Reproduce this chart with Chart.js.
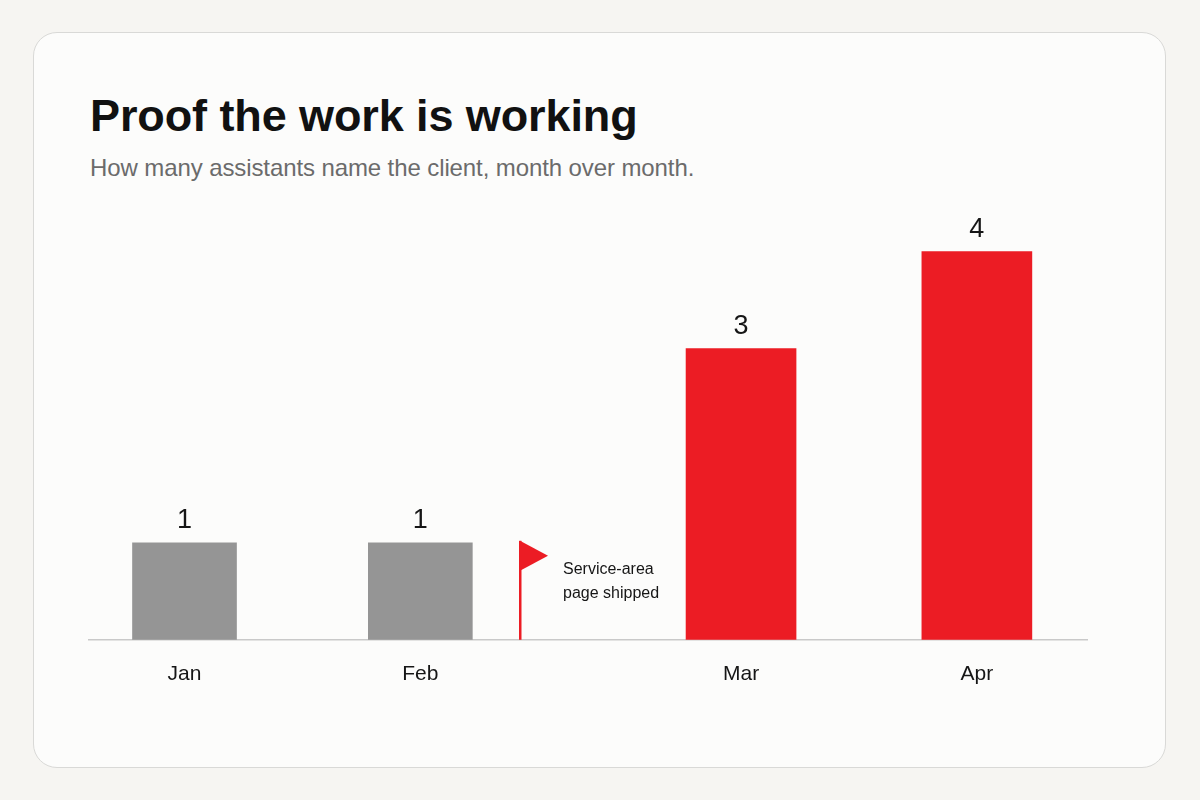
<!DOCTYPE html>
<html>
<head>
<meta charset="utf-8">
<script src="https://cdn.jsdelivr.net/npm/chart.js@4.4.1/dist/chart.umd.min.js"></script>
<style>
  html, body { margin: 0; padding: 0; }
  body {
    width: 1200px;
    height: 800px;
    background: #f6f5f2;
    position: relative;
    font-family: "Liberation Sans", Arial, sans-serif;
    overflow: hidden;
  }
  .card {
    position: absolute;
    left: 33px;
    top: 32px;
    width: 1131px;
    height: 734px;
    background: #fcfcfb;
    border: 1px solid #d9d9d7;
    border-radius: 24px;
  }
  .title {
    position: absolute;
    left: 90px;
    top: 93px;
    margin: 0;
    font-size: 45px;
    line-height: 45px;
    font-weight: 700;
    color: #111;
    letter-spacing: -0.1px;
  }
  .subtitle {
    position: absolute;
    left: 90px;
    top: 156px;
    margin: 0;
    font-size: 24px;
    line-height: 24px;
    color: #6b6b6b;
    letter-spacing: -0.1px;
  }
  .chart-box {
    position: absolute;
    left: 33px;
    top: 180px;
    width: 1133px;
    height: 588px;
  }
</style>
</head>
<body>
<div class="card"></div>
<h1 class="title">Proof the work is working</h1>
<p class="subtitle">How many assistants name the client, month over month.</p>
<div class="chart-box"><canvas id="myChart"></canvas></div>

<script>
// 데이터
const MONTHS = ["Jan", "Feb", "Mar", "Apr"];
const ASSISTANTS = [1, 1, 3, 4];
const LAUNCH_AFTER = "Feb";
const LAUNCH_NOTE = ["Service-area", "page shipped"];

// 색상
const GRAY = "#959595";
const RED = "#ec1c24";
const INK = "#161616";

// 출시 이후 달 사이에 벌어지는 간격 (레이아웃)
const LAUNCH_GAP = 0.36;
const launchIndex = MONTHS.indexOf(LAUNCH_AFTER);
const xPos = MONTHS.map((m, i) => i + (i > launchIndex ? LAUNCH_GAP : 0));

const toPoints = (from, to) =>
  MONTHS.slice(from, to).map((m, k) => ({ x: xPos[from + k], y: ASSISTANTS[from + k] }));

// 막대 위에 값 표시
const valueLabels = {
  id: "valueLabels",
  afterDatasetsDraw(chart) {
    const ctx = chart.ctx;
    ctx.save();
    ctx.fillStyle = INK;
    ctx.font = "27px 'Liberation Sans', Arial, sans-serif";
    ctx.textAlign = "center";
    ctx.textBaseline = "alphabetic";
    chart.data.datasets.forEach((ds, di) => {
      chart.getDatasetMeta(di).data.forEach((bar, i) => {
        ctx.fillText(String(ds.data[i].y), bar.x, bar.y - 15);
      });
    });
    ctx.restore();
  },
};

// 출시 시점 깃발
const launchFlag = {
  id: "launchFlag",
  afterDatasetsDraw(chart) {
    const { ctx, chartArea, scales } = chart;
    const a = scales.x.getPixelForValue(xPos[launchIndex]);
    const b = scales.x.getPixelForValue(xPos[launchIndex + 1]);
    const x = Math.round(a + (b - a) * 0.31);
    const bottom = chartArea.bottom;
    const top = bottom - 99;
    ctx.save();
    ctx.fillStyle = RED;
    ctx.fillRect(x - 1, top, 2.5, bottom - top);
    ctx.beginPath();
    ctx.moveTo(x, top);
    ctx.lineTo(x + 28, top + 15);
    ctx.lineTo(x, top + 30);
    ctx.closePath();
    ctx.fill();
    ctx.fillStyle = INK;
    ctx.font = "16px 'Liberation Sans', Arial, sans-serif";
    ctx.textAlign = "left";
    ctx.textBaseline = "alphabetic";
    LAUNCH_NOTE.forEach((line, i) => ctx.fillText(line, x + 43, top + 33 + i * 24));
    ctx.restore();
  },
};

const ctx = document.getElementById("myChart").getContext("2d");

new Chart(ctx, {
  type: "bar",
  data: {
    datasets: [
      {
        label: "Before",
        data: toPoints(0, launchIndex + 1),
        backgroundColor: GRAY,
        barThickness: 104,
        grouped: false,
      },
      {
        label: "After",
        data: toPoints(launchIndex + 1, MONTHS.length),
        backgroundColor: RED,
        barThickness: 110,
        grouped: false,
      },
    ],
  },
  options: {
    responsive: true,
    maintainAspectRatio: false,
    animation: false,
    layout: {
      padding: { left: 56, right: 79, top: 23, bottom: 59 },
    },
    plugins: {
      legend: { display: false },
      tooltip: { enabled: false },
    },
    scales: {
      x: {
        type: "linear",
        min: -0.405,
        max: 3.827,
        offset: false,
        border: { color: "#c9c9c9", width: 1.5 },
        grid: { display: false, drawTicks: false },
        afterBuildTicks: (scale) => {
          scale.ticks = xPos.map((v) => ({ value: v }));
        },
        ticks: {
          autoSkip: false,
          maxRotation: 0,
          padding: 22,
          color: INK,
          font: { family: "'Liberation Sans', Arial, sans-serif", size: 21 },
          callback: (value) => {
            const i = xPos.findIndex((p) => Math.abs(p - value) < 1e-6);
            return i >= 0 ? MONTHS[i] : "";
          },
        },
      },
      y: {
        display: false,
        min: 0,
        max: 4.5,
      },
    },
  },
  plugins: [valueLabels, launchFlag],
});
</script>
</body>
</html>
